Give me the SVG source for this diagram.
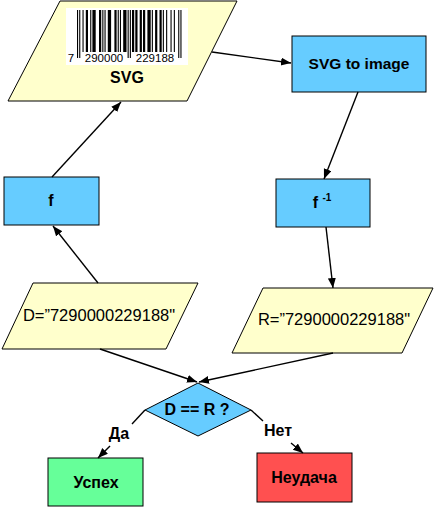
<svg xmlns="http://www.w3.org/2000/svg" width="435" height="518" viewBox="0 0 435 518">
<defs>
<marker id="arr" markerWidth="11" markerHeight="9" refX="10" refY="4" orient="auto" markerUnits="userSpaceOnUse">
<path d="M0,0 L10,4 L0,8 z" fill="#000"/>
</marker>
<style>
.io{fill:#FFFFCC;stroke:#000;stroke-width:1}
.proc{fill:#66CCFF;stroke:#000;stroke-width:1}
.t{font-family:"Liberation Sans",Arial,sans-serif;font-size:16px;font-weight:bold;fill:#000;text-anchor:middle}
.tr{font-family:"Liberation Sans",Arial,sans-serif;font-size:16.5px;fill:#000;text-anchor:middle}
.dg{font-family:"Liberation Sans",Arial,sans-serif;font-size:11.5px;fill:#000;text-anchor:middle}
.c{fill:none;stroke:#000;stroke-width:1.4}
.ca{fill:none;stroke:#000;stroke-width:1.4;marker-end:url(#arr)}
</style>
</defs>
<rect width="435" height="518" fill="#fff"/>

<g id="svg-input">
<polygon class="io" points="60,1 237,1 187,101 8,101"/>
<rect x="66" y="8" width="122" height="57" fill="#fff"/>
<g transform="translate(77,10) scale(1.1,1)" fill="#000">
<rect x="0" width="1" height="48"/><rect x="2" width="1" height="48"/>
<rect x="5" width="1" height="42"/><rect x="8" width="2" height="42"/>
<rect x="12" width="1" height="42"/><rect x="14" width="3" height="42"/>
<rect x="20" width="2" height="42"/><rect x="23" width="1" height="42"/>
<rect x="25" width="1" height="42"/><rect x="28" width="3" height="42"/>
<rect x="34" width="2" height="42"/><rect x="37" width="1" height="42"/>
<rect x="39" width="1" height="42"/><rect x="42" width="3" height="42"/>
<rect x="46" width="1" height="48"/><rect x="48" width="1" height="48"/>
<rect x="50" width="2" height="42"/><rect x="53" width="2" height="42"/>
<rect x="57" width="2" height="42"/><rect x="60" width="2" height="42"/>
<rect x="64" width="3" height="42"/><rect x="68" width="1" height="42"/>
<rect x="71" width="2" height="42"/><rect x="75" width="2" height="42"/>
<rect x="78" width="1" height="42"/><rect x="81" width="1" height="42"/>
<rect x="85" width="1" height="42"/><rect x="88" width="1" height="42"/>
<rect x="92" width="1" height="48"/><rect x="94" width="1" height="48"/>
</g>
<text class="dg" x="71" y="62">7</text>
<text class="dg" x="104" y="62">290000</text>
<text class="dg" x="155" y="62">229188</text>
<text class="t" x="127" y="83">SVG</text>
</g>

<g id="svg-to-image">
<rect class="proc" x="292" y="36" width="134" height="56"/>
<text class="t" x="359" y="69" style="font-size:15.5px">SVG to image</text>
</g>

<g id="f-inv">
<rect class="proc" x="276" y="179" width="94" height="48"/>
<text class="t" x="322" y="208">f <tspan dy="-7" style="font-size:10px">-1</tspan></text>
</g>

<g id="f">
<rect class="proc" x="4" y="177" width="95" height="48"/>
<text class="t" x="51" y="206">f</text>
</g>

<g id="d-input">
<polygon class="io" points="33,283 198,283 166,349 2,349"/>
<text class="tr" x="99" y="321">D=”7290000229188"</text>
</g>

<g id="r-output">
<polygon class="io" points="263,288 433,288 402,353 232,353"/>
<text class="tr" x="334" y="325">R=”7290000229188"</text>
</g>

<g id="compare">
<polygon points="198,383 251,410 198,436 145,410" fill="#66CCFF" stroke="#000" stroke-width="1"/>
<text class="t" x="197" y="415">D == R ?</text>
</g>

<g id="success">
<rect x="48" y="458" width="95" height="48" fill="#66FF99" stroke="#000" stroke-width="1"/>
<text class="t" x="96" y="488">Успех</text>
</g>

<g id="failure">
<rect x="257" y="453" width="95" height="49" fill="#FF5050" stroke="#000" stroke-width="1"/>
<text class="t" x="304" y="483">Неудача</text>
</g>

<g id="connectors">
<line class="ca" x1="98" y1="283" x2="53" y2="226"/>
<line class="ca" x1="52" y1="177" x2="121" y2="102"/>
<line class="ca" x1="212" y1="52" x2="291" y2="63"/>
<line class="ca" x1="358" y1="92" x2="324" y2="179"/>
<line class="ca" x1="326" y1="227" x2="333" y2="288"/>
<line class="ca" x1="100" y1="349" x2="197" y2="382"/>
<line class="ca" x1="333" y1="353" x2="199" y2="382"/>
<line class="c" x1="145" y1="410" x2="132" y2="424"/>
<line class="ca" x1="110" y1="446" x2="98" y2="458"/>
<line class="c" x1="251" y1="410" x2="263" y2="421"/>
<line class="ca" x1="291" y1="443" x2="303" y2="453"/>
<text class="t" x="119" y="439">Да</text>
<text class="t" x="278" y="436">Нет</text>
</g>
</svg>
